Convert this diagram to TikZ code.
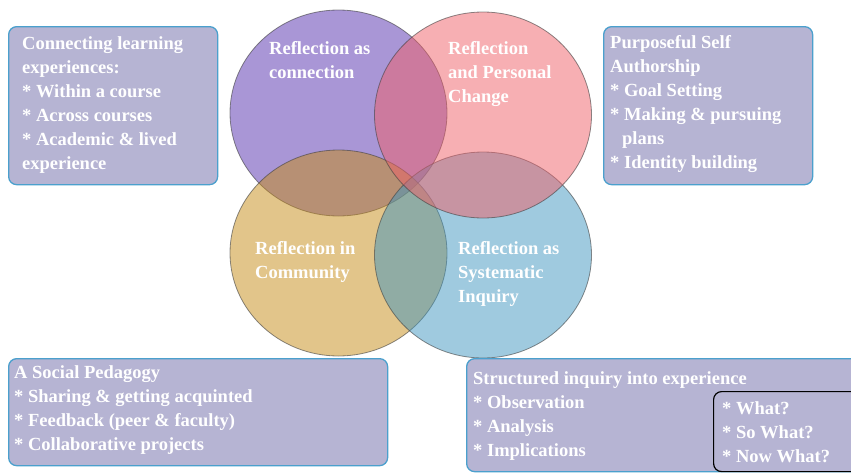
\documentclass[tikz,border=0pt]{standalone}
\usepackage{fontspec}
\setmainfont{Liberation Serif}
\usetikzlibrary{shapes.geometric}
\definecolor{cpurple}{RGB}{83,45,173}
\definecolor{cpink}{RGB}{239,95,103}
\definecolor{cgold}{RGB}{197,139,21}
\definecolor{cblue}{RGB}{63,149,191}
\definecolor{boxfill}{RGB}{182,180,211}
\definecolor{boxline}{RGB}{75,160,205}
\tikzset{
  venn/.style={ellipse, minimum width=217pt, minimum height=206pt, inner sep=0pt,
    fill opacity=0.5, draw=black!75, draw opacity=0.6, line width=0.8pt},
  infobox/.style={rectangle, rounded corners=8pt, fill=boxfill, draw=boxline,
    line width=1.3pt, anchor=north west, inner sep=0pt},
  innerbox/.style={rectangle, rounded corners=8pt, draw=black, line width=1.2pt,
    anchor=north west, inner sep=0pt},
  txt/.style={anchor=north west, inner sep=0pt, align=left, text=white,
    font=\fontsize{18.5}{24}\selectfont\bfseries},
}
\begin{document}
\begin{tikzpicture}[x=1pt,y=-1pt]
\useasboundingbox (0,0) rectangle (851,472);
\clip (0,0) rectangle (851,472);
% circles
\node[venn, fill=cpurple] (purple) at (338.5,113) {};
\node[venn, fill=cgold]   (gold)   at (338.5,253) {};
\node[venn, fill=cblue]   (blue)   at (483,255) {};
\node[venn, fill=cpink]   (pink)   at (483,115) {};
\node[txt] (tpurple) at (269,41) {Reflection as\\connection};
\node[txt] (tpink) at (448,41) {Reflection\\and Personal\\Change};
\node[txt] (tgold) at (255,241) {Reflection in\\Community};
\node[txt] (tblue) at (458,241) {Reflection as\\Systematic\\Inquiry};
% boxes
\node[infobox, minimum width=209pt, minimum height=158pt] (tl) at (8,26) {};
\node[txt] (ttl) at (22,36) {Connecting learning\\experiences:\\* Within a course\\* Across courses\\* Academic \& lived\\experience};
\node[infobox, minimum width=209pt, minimum height=158pt] (tr) at (603,26) {};
\node[txt] (ttr) at (610,35) {Purposeful Self\\Authorship\\* Goal Setting\\* Making \& pursuing\\\hspace*{12pt}plans\\* Identity building};
\node[infobox, minimum width=379pt, minimum height=107pt] (bl) at (8,358) {};
\node[txt] (tbl) at (14,365) {A Social Pedagogy\\* Sharing \& getting acquinted\\* Feedback (peer \& faculty)\\* Collaborative projects};
\node[infobox, minimum width=400pt, minimum height=113pt] (br) at (466,358) {};
\node[txt] (tbr) at (473,371) {Structured inquiry into experience\\* Observation\\* Analysis\\* Implications};
\node[innerbox, minimum width=150pt, minimum height=80pt] (wh) at (713,391) {};
\node[txt] (twh) at (722,401) {* What?\\* So What?\\* Now What?};
\end{tikzpicture}
\end{document}
